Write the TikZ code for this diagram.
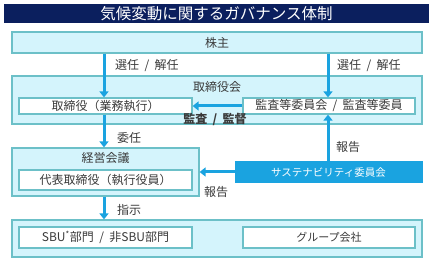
\documentclass[tikz,border=0pt]{standalone}
\usepackage{fontspec}
\setmainfont{Noto Sans CJK JP}
\usetikzlibrary{arrows.meta}
\definecolor{navy}{HTML}{0B1F5E}
\definecolor{lfill}{HTML}{D4F4FC}
\definecolor{lborder}{HTML}{6CC0C8}
\definecolor{arrowc}{HTML}{1AA3E0}
\definecolor{txt}{HTML}{3A3A3A}
\newcommand{\myslash}{\hspace{0.45em}/\hspace{0.45em}}
\tikzset{
  outerbox/.style={draw=lborder, fill=lfill, line width=1.2pt, inner sep=0pt},
  innerbox/.style={draw=lborder, fill=white, line width=1.2pt, inner sep=0pt, text=txt, font=\fontsize{12}{14}\selectfont},
  lbl/.style={text=txt, font=\fontsize{12}{14}\selectfont, inner sep=0pt},
  arr/.style={draw=arrowc, line width=3pt, -{Triangle[width=9pt,length=6pt]}},
}
\begin{document}
\begin{tikzpicture}[x=1pt,y=-1pt]
\useasboundingbox (0,0) rectangle (433,261);
\fill[white] (0,0) rectangle (433,261);
% title
\node[fill=navy, minimum width=425pt, minimum height=19pt, inner sep=0pt, text=white, font=\fontsize{15.5}{17}\selectfont] (title) at (216.5,13.5) {気候変動に関するガバナンス体制};
% outer boxes
\node[outerbox, minimum width=410pt, minimum height=21pt, text=txt, font=\fontsize{12}{14}\selectfont] (kabu) at (217,42.5) {株主};
\node[outerbox, minimum width=410pt, minimum height=48pt] (tkai) at (217,100) {};
\node[lbl] (tkailbl) at (217,87) {取締役会};
\node[outerbox, minimum width=187pt, minimum height=48pt] (keiei) at (105.5,172) {};
\node[lbl] (keieilbl) at (105.5,158) {経営会議};
\node[outerbox, minimum width=410pt, minimum height=37pt] (bottom) at (217,238.5) {};
% inner boxes
\node[innerbox, minimum width=173pt, minimum height=16pt] (tori) at (105.5,106) {取締役（業務執行）};
\node[innerbox, minimum width=172pt, minimum height=16pt] (kansa) at (329,106) {監査等委員会\myslash 監査等委員};
\node[innerbox, minimum width=173pt, minimum height=20pt] (daihyo) at (105.5,180) {代表取締役（執行役員）};
\node[innerbox, minimum width=173pt, minimum height=21pt] (sbu) at (105.5,237.5) {SBU\textsuperscript{*}部門\myslash 非SBU部門};
\node[innerbox, minimum width=172pt, minimum height=21pt, font=\fontsize{11}{13}\selectfont] (group) at (329,237.5) {グループ会社};
\node[draw=arrowc, fill=arrowc, line width=1pt, minimum width=187pt, minimum height=21pt, inner sep=0pt, text=white, font=\fontsize{10.5}{12}\selectfont] (sust) at (328.5,172.5) {サステナビリティ委員会};
% arrows
\draw[arr] (kabu.south -| 104,0) -- (tori.north -| 104,0);
\draw[arr] (kabu.south -| 328,0) -- (kansa.north -| 328,0);
\draw[arr] (kansa.west) -- (tori.east);
\draw[arr] (tori.south -| 104,0) -- (keiei.north -| 104,0);
\draw[arr] (sust.north -| 328,0) -- (kansa.south -| 328,0);
\draw[arr] (sust.west |- 0,172) -- (keiei.east |- 0,172);
\draw[arr] (keiei.south -| 104,0) -- (bottom.north -| 104,0);
% labels
\node[lbl, anchor=west] (l1) at (115,66) {選任\myslash 解任};
\node[lbl, anchor=west] (l2) at (337,66) {選任\myslash 解任};
\node[lbl, font=\fontsize{12}{14}\selectfont\bfseries] (l3) at (215,119) {監査\myslash 監督};
\node[lbl, anchor=west] (l4) at (117,138) {委任};
\node[lbl, anchor=west] (l5) at (336,147) {報告};
\node[lbl, anchor=west] (l6) at (204,192) {報告};
\node[lbl, anchor=west] (l7) at (117,210) {指示};
\end{tikzpicture}
\end{document}
